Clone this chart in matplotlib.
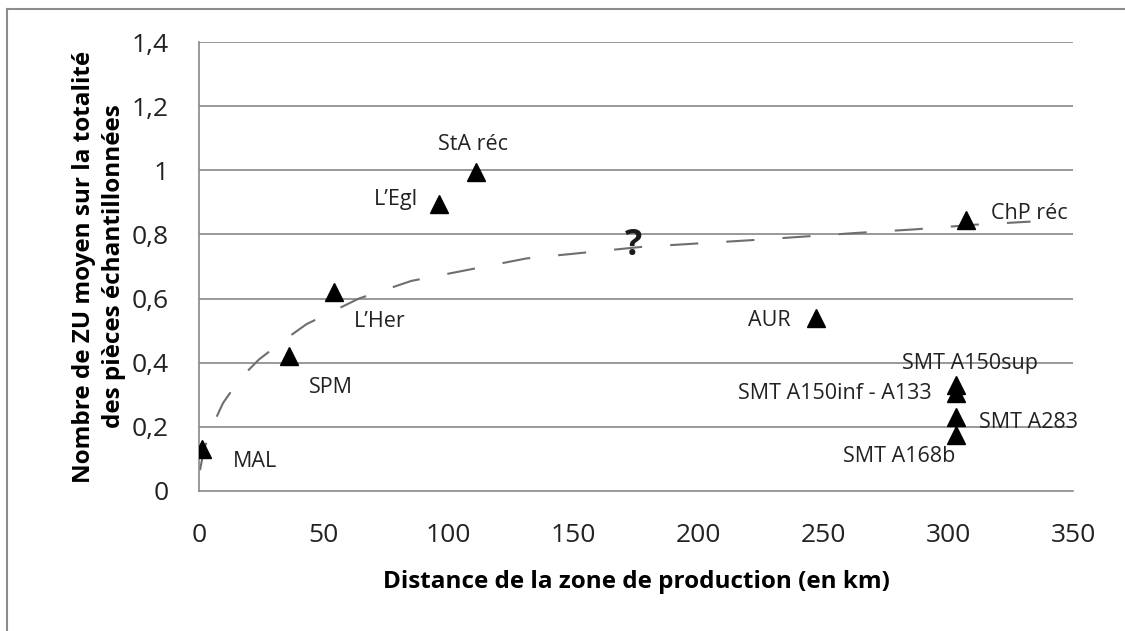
import numpy as np
import matplotlib
matplotlib.use("Agg")
from matplotlib import pyplot as plt
from matplotlib.lines import Line2D

# sites: distance to production zone (km) vs mean ZU count
sites = ["MAL", "SPM", "L\u2019Her", "L\u2019Egl", "StA réc", "ChP réc", "AUR",
         "SMT A150sup", "SMT A150inf - A133", "SMT A283", "SMT A168b"]
distance_km = [1, 36, 54, 96, 111, 307, 247, 303, 303, 303, 303]
mean_zu = [0.13, 0.42, 0.62, 0.895, 0.995, 0.845, 0.54, 0.33, 0.305, 0.23, 0.175]

# dashed trend curve
trend_x = [0.4, 2, 5.2, 9.6, 16.4, 24, 34, 43, 64, 85, 131, 177, 223, 264, 287, 310, 333]
trend_y = [0.065, 0.13, 0.2, 0.274, 0.35, 0.41, 0.47, 0.52, 0.60, 0.655, 0.725,
           0.761, 0.783, 0.805, 0.816, 0.83, 0.84]

# label placement (pixel offsets from the marker) and alignment
label_offsets = [(31, -12), (20, -31), (20, -29), (-21, 4), (-3, 27), (25, 7),
                 (-25, -3), (14, 22), (-24, 0), (23, -5), (0, -22)]
label_align = ["left", "left", "left", "right", "center", "left", "right",
               "center", "right", "left", "right"]

plt.rcParams["font.family"] = ["Open Sans", "DejaVu Sans"]

fig = plt.figure(figsize=(11.25, 6.31), dpi=100)
ax = fig.add_axes([0.1769, 0.2219, 0.7769, 0.7115])

grid_col = "#888888"
for yv in np.arange(0.2, 1.41, 0.2):
    ax.axhline(yv, color=grid_col, lw=1.2, zorder=1)

ax.plot(trend_x, trend_y, color="#6e6e6e", lw=1.5, dashes=(13.5, 13.5),
        solid_joinstyle="round", zorder=2)

ax.plot(distance_km, mean_zu, linestyle="none", marker="^", ms=13,
        color="black", zorder=3)

for name, xv, yv, off, al in zip(sites, distance_km, mean_zu, label_offsets, label_align):
    ax.annotate(name, (xv, yv), xytext=off, textcoords="offset pixels",
                ha=al, va="center", fontsize=15.5, color="#222222")

ax.text(174, 0.765, "?", fontsize=26, fontweight="bold", ha="center",
        va="center", color="#1a1a1a")

ax.set_xlim(0, 350)
ax.set_ylim(0, 1.4)
ax.set_xticks(range(0, 351, 50))
ax.set_yticks(np.arange(0, 1.41, 0.2))
ax.set_yticklabels(["0", "0,2", "0,4", "0,6", "0,8", "1", "1,2", "1,4"])
ax.tick_params(length=0, labelsize=19, colors="#222222")
ax.tick_params(axis="x", pad=23)
ax.tick_params(axis="y", pad=22)

for side in ["top", "right"]:
    ax.spines[side].set_visible(False)
for side in ["left", "bottom"]:
    ax.spines[side].set_color(grid_col)
    ax.spines[side].set_linewidth(1.2)

ax.set_xlabel("Distance de la zone de production (en km)", fontsize=17.5,
              fontweight="bold", labelpad=16)
ax.set_ylabel("Nombre de ZU moyen sur la totalité\ndes pièces échantillonnées",
              fontsize=17.5, fontweight="bold", labelpad=4, linespacing=1.3)

# outer chart frame (left and top edges visible)
fig.add_artist(Line2D([0.0062, 0.0062], [0, 0.986], color="#8c8c8c", lw=1.5,
                      transform=fig.transFigure))
fig.add_artist(Line2D([0.0062, 1.0], [0.986, 0.986], color="#8c8c8c", lw=1.5,
                      transform=fig.transFigure))

fig.savefig("out.png", dpi=100)
